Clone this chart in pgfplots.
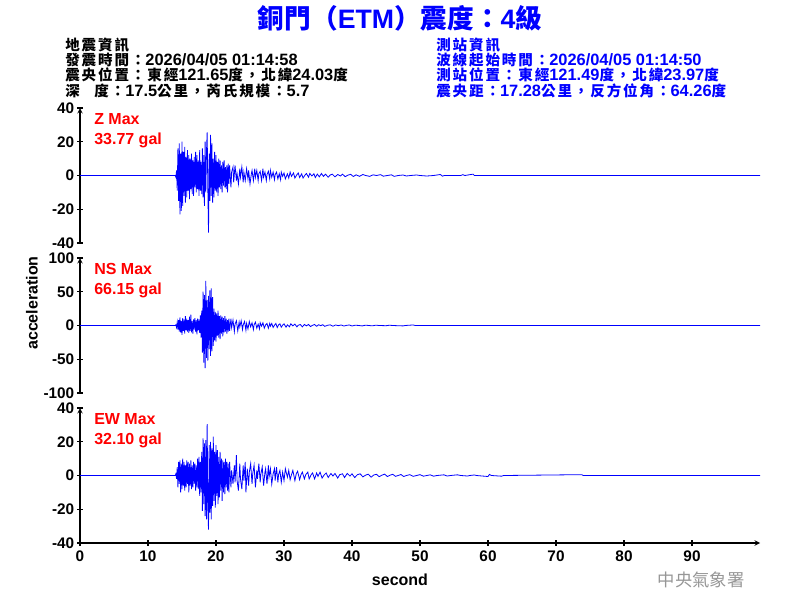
\documentclass[border=0pt]{standalone}
\usepackage{fontspec}
\setmainfont{Liberation Sans}
\newfontfamily\cjk{Noto Sans CJK TC}
\newfontfamily\cjkh[LetterSpace=13]{Noto Sans CJK TC}
\usepackage{pgfplots}
\pgfplotsset{compat=1.18}
\definecolor{pblue}{RGB}{0,0,255}
\definecolor{pred}{RGB}{255,0,0}
\definecolor{pgray}{RGB}{150,150,150}
\newcommand{\C}[1]{{\cjkh\fontsize{10.9}{10.9}\selectfont #1}}
\pgfplotsset{seis/.style={scale only axis, width=510pt, height=101.25pt,
  xmin=0, xmax=100,
  axis line style={-, line width=0.8pt, black}, tick align=outside,
  major tick length=4pt, tick style={black, line width=0.8pt},
  ticklabel style={font=\fontsize{11.5}{11.5}\selectfont\bfseries},
  yticklabel style={xshift=1.2pt},
  /pgf/number format/assume math mode=true, anchor=north west}}
\begin{document}
\begin{tikzpicture}
\begin{scope}[x=0.75pt,y=-0.75pt]
\useasboundingbox (0,0) rectangle (800,600);
% titles
\node[font=\fontsize{20}{20}\selectfont\bfseries, text=pblue] at (400,18) {{\cjk 銅門（}ETM{\cjk ）震度：}4{\cjk 級}};
\begin{scope}[every node/.style={anchor=base west, font=\fontsize{12.3}{12.3}\selectfont\bfseries, inner sep=0pt}]
\node at (65,50) {\C{地震資訊}};
\node at (65,65) {\C{發震時間：}2026/04/05 01:14:58};
\node at (65,80) {\C{震央位置：東經}121.65\C{度，北緯}24.03\C{度}};
\node at (65,96) {\C{深\quad 度：}17.5\C{公里，芮氏規模：}5.7};
\node[text=pblue] at (436,50) {\C{測站資訊}};
\node[text=pblue] at (436,65) {\C{波線起始時間：}2026/04/05 01:14:50};
\node[text=pblue] at (436,80) {\C{測站位置：東經}121.49\C{度，北緯}23.97\C{度}};
\node[text=pblue] at (436,96) {\C{震央距：}17.28\C{公里，反方位角：}64.26\C{度}};
\end{scope}
\begin{scope}[every node/.style={font=\fontsize{12}{12}\selectfont\bfseries, text=pred, anchor=north west, inner sep=0pt}]
\node at (94,113) {Z Max};
\node at (94,133) {33.77 gal};
\node at (94,263) {NS Max};
\node at (94,283) {66.15 gal};
\node at (94,413) {EW Max};
\node at (94,433) {32.10 gal};
\end{scope}
\node[rotate=90, font=\fontsize{12}{12}\selectfont\bfseries] at (32,303) {acceleration};
\node[font=\fontsize{12}{12}\selectfont\bfseries] at (400,580) {second};
\node[font=\fontsize{13}{13}\selectfont\cjk, text=pgray] at (701,580) {中央氣象署};
\end{scope}
% Z
\begin{axis}[seis, at={(60pt,-81pt)}, axis y line=left, axis x line=none, xtick=\empty,
  ymin=-40, ymax=40, ytick={-40,-20,0,20,40}]
\addplot[pblue, line width=0.6pt, mark=none] table {
0 0
14.0 0
14.1 -1
14.2 3
14.3 -9
14.4 16
14.5 -15
14.6 19
14.7 -23
14.8 13
14.9 -21
15.0 20
15.1 -18
15.2 14
15.3 -12
15.4 17
15.5 -16
15.6 11
15.7 -13
15.8 15
15.9 -9
16.0 12
16.1 -14
16.2 10
16.3 -8
16.4 13
16.5 -11
16.6 9
16.7 -12
16.8 11
16.9 -7
17.0 14
17.1 -10
17.2 12
17.3 -8
17.4 9
17.5 -12
17.6 15
17.7 -9
17.8 8
17.9 -11
18.0 16
18.1 -13
18.2 12
18.3 -18
18.4 20
18.5 -10
18.6 14
18.7 25.5
18.8 -8
18.9 -33.8
19.0 13
19.1 -15
19.2 24
19.3 -12
19.4 19
19.5 -16
19.6 10
19.7 -13
19.8 14
19.9 -9
20.0 12
20.1 -10
20.2 8
20.3 -12
20.4 10
20.5 -7
20.6 9
20.7 -8
20.8 6
20.9 -10
21.0 8
21.1 -6
21.2 9
21.3 -7
21.4 5
21.5 -8
21.6 6
21.7 -10
21.8 7
21.9 -5
22.0 6
22.2 -7
22.3 2
22.5 5
22.6 -4
22.8 6
23.0 -3
23.1 1
23.3 -5
23.5 4
23.6 -1
23.8 5
24.0 -4
24.1 2
24.3 -3
24.5 4
24.7 -2
24.8 3
25.0 -5
25.2 1
25.3 3
25.5 -3
25.7 4
25.8 -1
26.0 3
26.2 -3
26.3 1
26.5 2.5
26.7 -3
26.9 4
27.0 -1
27.2 2
27.4 -3
27.5 0.5
27.7 2.5
27.9 -2
28.0 3
28.2 -1
28.4 2
28.6 -2.5
28.7 0.5
28.9 2
29.1 -2
29.3 1
29.5 -2.5
29.6 2
29.8 -0.5
30.0 1.5
30.2 -2
30.5 1
30.7 -1.5
30.9 2
31.1 -0.5
31.4 1.5
31.6 -1.5
31.9 0.5
32.1 1.5
32.3 -1.2
32.6 1
32.8 -1.5
33.1 0.3
33.3 1.2
33.6 -1
33.8 1.2
34.1 -0.3
34.4 1
34.6 -1.2
34.9 0.8
35.2 -0.8
35.5 1.2
35.8 -0.5
36.1 0.8
36.5 -1
36.8 0.3
37.1 0.8
37.5 -0.8
37.9 0.6
38.3 -0.3
38.6 0.8
39.0 -0.7
39.4 0.2
39.8 0.7
40.2 -0.6
40.6 0.4
41.1 -0.5
41.6 0.6
42.0 0
42.6 -0.5
43.1 0.4
43.6 0
44.2 0.5
44.6 -0.4
45.2 0
45.8 0.4
46.2 -0.5
46.8 0
47.5 0.3
48.0 -0.3
48.6 0
49.5 0.3
50.0 0
51.0 -0.3
52.0 0
53.0 0.6
53.3 -0.4
53.6 0
56.0 0
56.3 0.5
56.6 0
57.8 0.8
58.0 0
100 0
};
\end{axis}
% NS
\begin{axis}[seis, at={(60pt,-193.5pt)}, axis y line=left, axis x line=none, xtick=\empty,
  ymin=-100, ymax=100, ytick={-100,-50,0,50,100}]
\addplot[pblue, line width=0.6pt, mark=none] table {
0 0
14.0 0
14.1 1
14.2 -3
14.3 5
14.4 -6
14.5 8
14.6 -9
14.7 12
14.8 -10
14.9 7
15.0 -14
15.1 11
15.2 -8
15.3 9
15.4 -12
15.5 14
15.6 -7
15.7 10
15.8 -9
15.9 8
16.0 -11
16.1 13
16.2 -8
16.3 16
16.4 -10
16.5 7
16.6 -12
16.7 9
16.8 -6
16.9 11
17.0 -9
17.1 8
17.2 -13
17.3 10
17.4 -7
17.5 9
17.6 -11
17.7 15
17.8 -18
17.9 22
18.0 -40
18.1 50
18.2 -55
18.3 45
18.4 -63
18.5 66
18.6 -48
18.7 38
18.8 -52
18.9 44
19.0 -35
19.1 52
19.2 -45
19.3 55
19.4 -38
19.5 42
19.6 -30
19.7 25
19.8 -22
19.9 20
20.0 -24
20.1 18
20.2 -15
20.3 22
20.4 -18
20.5 14
20.6 -20
20.7 15
20.8 -12
20.9 13
21.0 -16
21.1 11
21.2 -10
21.3 14
21.4 -9
21.5 10
21.6 -12
21.7 8
21.8 -9
21.9 10
22.0 -8
22.2 10
22.3 -3
22.5 8
22.7 -9
22.8 2
23.0 7
23.2 -8
23.4 5
23.5 -2
23.7 7
23.9 -6
24.0 1
24.2 6
24.4 -7
24.5 3
24.7 -5
24.9 6
25.1 -2
25.3 4
25.5 -6
25.6 1
25.8 5
26.0 -4
26.2 2
26.4 -5
26.5 4
26.7 -1
26.9 4
27.1 -4
27.3 1
27.5 3
27.7 -4
27.9 3
28.0 -1
28.2 3
28.4 -3
28.6 0.5
28.8 3
29.0 -3
29.2 1
29.4 2.5
29.6 -2.5
29.8 0.5
30.0 2.5
30.3 -2.5
30.5 1
30.8 -2
31.0 2.5
31.3 -0.5
31.6 2
31.9 -2
32.1 0.5
32.4 1.5
32.7 -2
33.0 1.5
33.3 -0.5
33.6 1.5
33.9 -1.5
34.2 0.3
34.5 1.5
34.8 -1.2
35.1 1.2
35.4 -0.3
35.7 1.2
36.0 -1.2
36.4 0.3
36.8 1
37.2 -1
37.6 0.8
38.0 -0.2
38.4 0.8
38.8 -0.8
39.2 0.2
39.6 0.8
40.0 -0.7
40.5 0.5
41.0 0
41.5 -0.6
42.0 0.5
42.5 0
43.0 -0.5
43.5 0.5
44.0 0
45.0 -0.3
45.5 0.4
46.0 0
47.5 -0.6
47.8 0
49.0 0.8
49.3 0
100 0
};
\end{axis}
% EW
\begin{axis}[seis, at={(60pt,-306pt)}, axis lines=left,
  ymin=-40, ymax=40, ytick={-40,-20,0,20,40}, xtick={0,10,20,30,40,50,60,70,80,90}]
\addplot[pblue, line width=0.6pt, mark=none] table {
0 0
14.0 0
14.1 1
14.2 -2
14.3 5
14.4 -7
14.5 8
14.6 -5
14.7 9
14.8 -10
14.9 7
15.0 -8
15.1 10
15.2 -6
15.3 8
15.4 -9
15.5 6
15.6 -7
15.7 9
15.8 -5
15.9 8
16.0 -10
16.1 7
16.2 -6
16.3 9
16.4 -8
16.5 6
16.6 -7
16.7 8
16.8 -5
16.9 7
17.0 -9
17.1 6
17.2 -7
17.3 10
17.4 -8
17.5 11
17.6 -12
17.7 8
17.8 -10
17.9 14
18.0 -21
18.1 22
18.2 -17
18.3 19
18.4 -24
18.5 21
18.6 -26
18.7 30.4
18.8 -20
18.9 -32.1
19.0 18
19.1 -22
19.2 20
19.3 -26
19.4 16
19.5 -18
19.6 23
19.7 -15
19.8 14
19.9 -19
20.0 18
20.1 -12
20.2 15
20.3 -17
20.4 11
20.5 -13
20.6 14
20.7 -9
20.8 10
20.9 -15
21.0 9
21.1 -10
21.2 8
21.3 -11
21.4 10
21.5 -7
21.6 8
21.7 -9
21.8 7
21.9 -10
22.0 8
22.2 -7
22.3 3
22.5 -5
22.7 6
22.8 -4
23.0 12
23.1 -3
23.3 -9
23.5 7
23.6 -2
23.8 -8
24.0 6
24.1 -3
24.3 8
24.4 -10
24.6 4
24.8 -6
24.9 2
25.1 7
25.3 -5
25.4 1
25.6 6
25.8 -7
26.0 3
26.1 -2
26.3 7
26.5 -4
26.6 1
26.8 5
27.0 -6
27.2 2
27.3 4
27.5 -5
27.7 6
27.8 -1
28.0 4
28.2 -5
28.4 1
28.6 4
28.7 -3
28.9 5
29.1 -4
29.2 0.5
29.4 3
29.6 -4
29.8 2
30.0 -3
30.2 4
30.5 -1
30.7 3
30.9 -2.5
31.1 0.5
31.3 3
31.6 -3
31.8 1
32.0 2.5
32.3 -2.5
32.5 0.5
32.7 2
33.0 -2
33.2 0.5
33.5 2
33.7 -2
34.0 0.5
34.2 1.5
34.5 -2
34.8 1.5
35.0 -0.5
35.3 2
35.6 -1.5
35.9 0.3
36.2 1.5
36.5 -1.2
36.9 1.2
37.2 -0.3
37.5 1.2
37.9 -1.5
38.2 0.5
38.6 1
38.9 -1.2
39.3 1.2
39.7 -0.3
40.0 1
40.4 -1.2
40.8 0.5
41.2 1
41.6 -0.8
42.0 0.2
42.4 0.8
42.8 -1
43.2 0.3
43.6 0.7
44.0 -0.7
44.4 0.2
44.8 0.8
45.2 -0.6
45.6 0.2
46.0 0.7
46.4 -0.5
46.8 0
47.2 0.6
47.6 -0.6
48.0 0
48.5 0.5
49.0 -0.5
49.5 0
50.0 0.5
50.5 -0.4
51.0 0
51.5 0.4
52.0 -0.4
52.5 0
53.5 0.4
54.0 -0.3
54.5 0
55.5 0.4
56.0 0
57.0 -0.3
57.3 0
58.0 0.3
58.3 0
60.0 -0.6
60.2 0.6
60.5 0
62.0 -0.4
62.3 0
73.8 0.5
74.0 0
100 0
};
\end{axis}
\end{tikzpicture}
\end{document}
